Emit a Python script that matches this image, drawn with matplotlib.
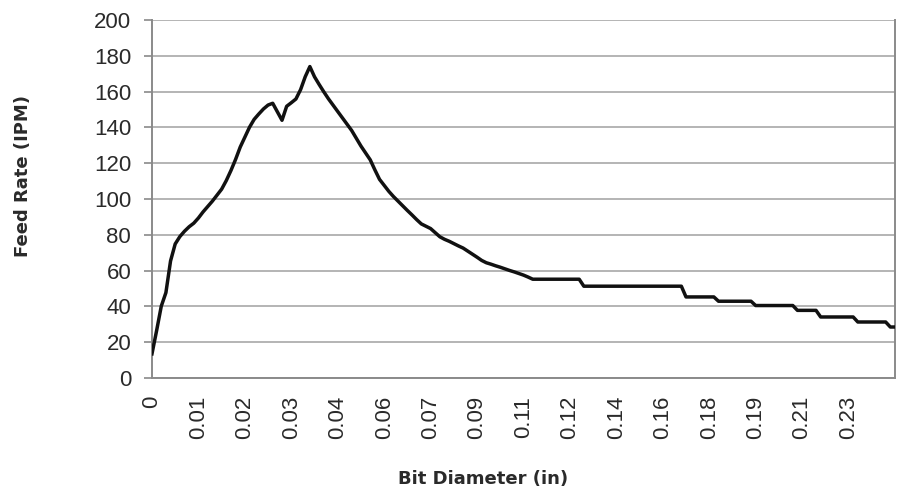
import matplotlib
matplotlib.use('Agg')
import matplotlib.pyplot as plt

plt.rcParams['font.family'] = ['Liberation Sans', 'DejaVu Sans']

# Feed rate (IPM) per bit-diameter category
feed_rate = [
    13.5, 26.5, 40.1, 47.7, 65.4, 74.9, 79.0, 82.0, 84.5, 86.5,
    89.4, 92.8, 95.8, 98.8, 102.1, 105.5, 110.3, 115.9, 122.1, 129.0,
    134.6, 140.1, 144.5, 147.5, 150.3, 152.5, 153.5, 148.7, 144.0, 151.8,
    153.8, 155.9, 161.1, 168.3, 174.0, 168.3, 164.0, 159.9, 156.0, 152.4,
    148.9, 145.4, 141.9, 138.3, 133.9, 129.6, 125.8, 121.9, 116.3, 111.0,
    107.6, 104.3, 101.4, 98.8, 96.2, 93.6, 91.1, 88.5, 86.1, 84.8,
    83.5, 81.2, 78.9, 77.5, 76.4, 75.1, 73.8, 72.6, 70.9, 69.2,
    67.5, 65.7, 64.4, 63.6, 62.7, 61.9, 61.0, 60.1, 59.3, 58.4,
    57.5, 56.4, 55.2, 55.2, 55.2, 55.2, 55.2, 55.2, 55.2, 55.2,
    55.2, 55.2, 55.2, 51.3, 51.3, 51.3, 51.3, 51.3, 51.3, 51.3,
    51.3, 51.3, 51.3, 51.3, 51.3, 51.3, 51.3, 51.3, 51.3, 51.3,
    51.3, 51.3, 51.3, 51.3, 51.3, 45.3, 45.3, 45.3, 45.3, 45.3,
    45.3, 45.3, 42.9, 42.9, 42.9, 42.9, 42.9, 42.9, 42.9, 42.9,
    40.5, 40.5, 40.5, 40.5, 40.5, 40.5, 40.5, 40.5, 40.5, 37.8,
    37.8, 37.8, 37.8, 37.8, 34.1, 34.1, 34.1, 34.1, 34.1, 34.1,
    34.1, 34.1, 31.3, 31.3, 31.3, 31.3, 31.3, 31.3, 31.3, 28.5,
    28.5,
]

# category labels shown every 10th point
tick_labels = ['0', '0.01', '0.02', '0.03', '0.04', '0.06', '0.07', '0.09',
               '0.11', '0.12', '0.14', '0.16', '0.18', '0.19', '0.21', '0.23']
tick_step = 10

fig = plt.figure(figsize=(9.03, 4.91), dpi=100)
ax = fig.add_axes([0.1683, 0.2301, 0.8228, 0.7291])

x = list(range(len(feed_rate)))
ax.plot(x, feed_rate, color='#111111', lw=2.5, solid_joinstyle='round', zorder=3)

ax.set_xlim(0, len(feed_rate) - 1)
ax.set_ylim(0, 200)
ax.set_yticks(range(0, 201, 20))
ax.set_xticks([i * tick_step for i in range(len(tick_labels))])
ax.set_xticklabels(tick_labels, rotation=90, va='top')

ax.yaxis.grid(True, color='#b4b4b4', lw=1.4)
ax.set_axisbelow(True)

for side in ['left', 'bottom', 'right']:
    ax.spines[side].set_color('#8a8a8a')
    ax.spines[side].set_linewidth(1.4)
ax.spines['top'].set_visible(False)

ax.tick_params(axis='y', length=6, width=1.2, color='#8a8a8a', pad=9,
               labelsize=16, labelcolor='#2a2a2a')
ax.tick_params(axis='x', length=0, pad=13, labelsize=16, labelcolor='#2a2a2a')

fig.text(0.0255, 0.6415, 'Feed Rate (IPM)', rotation=90, ha='center', va='center',
         family='DejaVu Sans', fontsize=13, fontweight='bold', color='#2a2a2a')
fig.text(0.5355, 0.0245, 'Bit Diameter (in)', ha='center', va='center',
         family='DejaVu Sans', fontsize=13, fontweight='bold', color='#2a2a2a')

fig.savefig('out.png', dpi=100)
